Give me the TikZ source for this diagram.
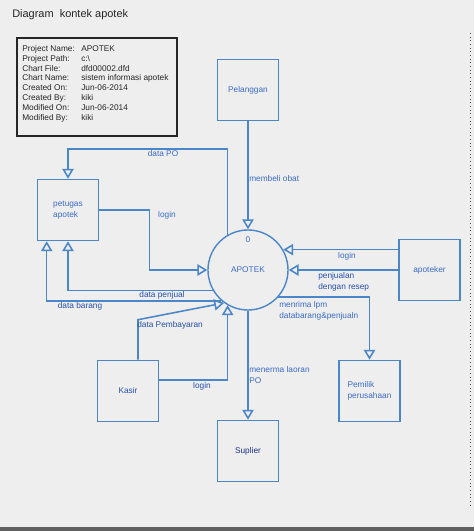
\documentclass[tikz,border=0pt]{standalone}
\usepackage{fontspec}
\setmainfont{Liberation Sans}
\usetikzlibrary{arrows.meta,calc}
\definecolor{lineblue}{HTML}{4A86C8}
\definecolor{textblue}{HTML}{3A6BC8}
\definecolor{darkblue}{HTML}{2450AE}
\definecolor{navyblue}{HTML}{1F2F8F}
\definecolor{bggray}{HTML}{EEEEEE}
\begin{document}
\begin{tikzpicture}[
	x=0.025cm, y=-0.025cm,
	every node/.style={font=\fontsize{5.9}{7.8}\selectfont, text=textblue, inner sep=0pt},
	entity/.style={shape=rectangle, draw=lineblue, line width=1.1pt, minimum size=1.525cm, align=left},
	process/.style={shape=circle, draw=lineblue, line width=1pt, minimum size=2cm},
	flow/.style={draw=lineblue, line width=1.1pt, -{Triangle[open, length=7pt, width=8pt]}},
	infoframe/.style={shape=rectangle, draw=black!85, line width=0.9pt, minimum width=4cm, minimum height=2.45cm},
]
\fill[bggray] (0,0) rectangle (474,531);
\fill[gray!75!black] (0,527) rectangle (474,531);
\useasboundingbox (0,0) rectangle (474,531);
\draw[dotted, gray!60!black, line width=0.6pt] (470,33) -- (470,505);

\node[anchor=west, text=black!85, font=\fontsize{7.8}{9}\selectfont] (judul) at (12,15) {Diagram\ \ kontek apotek};
\node[infoframe] (infobox) at (97,87) {};
\node[anchor=north west, text=black!85, font=\fontsize{5.9}{7.04}\selectfont] (info) at (22,44) {%
\begin{tabular}{@{}p{1.475cm}@{}l@{}}
Project Name: & APOTEK \\
Project Path: & c:\textbackslash \\
Chart File: & dfd00002.dfd \\
Chart Name: & sistem informasi apotek \\
Created On: & Jun-06-2014 \\
Created By: & kiki \\
Modified On: & Jun-06-2014 \\
Modified By: & kiki \\
\end{tabular}};

\node[entity] (pelanggan) at (248,90) {Pelanggan};
\node[process] (apotek) at (248,270) {APOTEK};
\node (nol) at ($(apotek.center)+(0,-30)$) {0};
\node[entity] (apoteker) at (429.5,270) {apoteker};
\node[entity] (pemilik) at (369.5,391) {Pemilik\\perusahaan};
\node[entity, text=navyblue] (suplier) at (248,451) {Suplier};
\node[entity, text=darkblue] (kasir) at (128,391) {Kasir};
\node[entity] (petugas) at (68,210) {petugas\\apotek};

\draw[flow] (pelanggan.south) -- (apotek.north);
\draw[flow] (apoteker.west |- apotek.30) -- (apotek.30);
\draw[flow] (apoteker.west) -- (apotek.east);
\draw[flow] (apotek.-42.5) -| (pemilik.north);
\draw[flow] (apotek.south) -- (suplier.north);
\draw[flow] (apotek.120) -- ++(0,-86) -| (petugas.north);
\draw[flow] (petugas.east) -- ++(50,0) |- (apotek.west);
\draw[flow] (apotek.210) -| (petugas.south);
\coordinate (barangend) at ($(petugas.south west)+(10,0)$);
\draw[flow] (apotek.229) -| (barangend);
\draw[flow] ($(kasir.east)+(0,-11)$) -| (apotek.240);
\draw[flow] ($(kasir.north)+(10,0)$) -- ++(0,-40) -- (apotek.234);

\node[anchor=west] (lblbeli) at (249,179) {membeli obat};
\node (lblpo) at (163,154) {data PO};
\node (lbllogina) at (167,215) {login};
\node[text=darkblue] (lblpenjual) at (162,295) {data penjual};
\node[text=darkblue] (lblbarang) at (80,306) {data barang};
\node[anchor=west, text=darkblue] (lblbayar) at (137,325) {data Pembayaran};
\node[text=darkblue] (lbloginb) at (202,386) {login};
\node (lbloginc) at (347,256) {login};
\node[anchor=west, align=left, text=darkblue] (lblresep) at (318,281.5) {penjualan\\dengan resep};
\node[anchor=west, align=left] (lbllpm) at (279,310.5) {menrima lpm\\databarang\&penjualn};
\node[anchor=west, align=left] (lbllaporan) at (249,375.5) {menerma laoran\\PO};
\end{tikzpicture}
\end{document}
